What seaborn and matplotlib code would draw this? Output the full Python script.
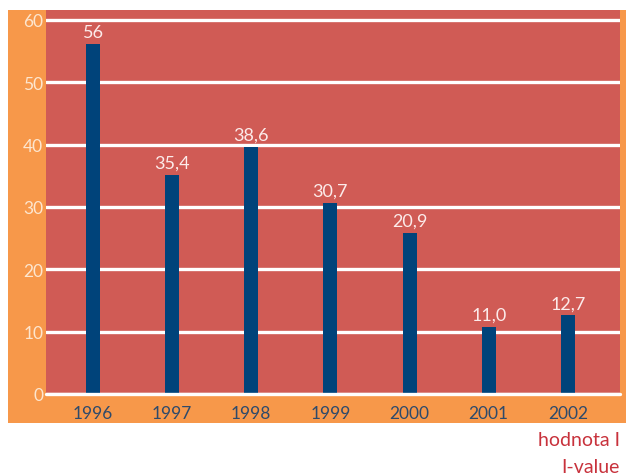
import matplotlib
matplotlib.use("Agg")
import matplotlib.pyplot as plt
import seaborn as sns
import pandas as pd
from matplotlib.patches import Rectangle

# data
years = ['1996', '1997', '1998', '1999', '2000', '2001', '2002']
bar_heights = [56.1, 35.2, 39.6, 30.7, 25.9, 10.8, 12.6]
bar_labels = ['56', '35,4', '38,6', '30,7', '20,9', '11,0', '12,7']
yticks = [0, 10, 20, 30, 40, 50, 60]

orange = '#F7984A'
red = '#D05B55'
blue = '#00437A'

df = pd.DataFrame({'year': years, 'value': bar_heights})

sns.set_style('white')
plt.rcParams['font.family'] = ['Lato', 'DejaVu Sans']

W, H = 626, 477
fig = plt.figure(figsize=(W / 100, H / 100), dpi=100)
fig.patch.set_facecolor('white')

# orange panel behind the plot
fig.patches.append(Rectangle((8 / W, 1 - 424 / H), (W - 8) / W, (424 - 11) / H,
                             transform=fig.transFigure, facecolor=orange,
                             edgecolor='none', zorder=-5))

ax = fig.add_axes([46 / W, (H - 395) / H, 574 / W, (395 - 11) / H])
ax.set_zorder(2)
ax.set_facecolor(red)

sns.barplot(data=df, x='year', y='value', color=blue, width=0.177,
            saturation=1, linewidth=0, ax=ax, zorder=3)

ax.set_xlim(-0.595, 6.66)
ax.set_ylim(0, 61.6)
ax.set_yticks(yticks)
ax.yaxis.grid(True, color='white', linewidth=2.4, zorder=1)
ax.set_axisbelow(True)
ax.axhline(0, color='white', linewidth=2.4, clip_on=False, zorder=4)
for s in ax.spines.values():
    s.set_visible(False)

ax.tick_params(axis='both', length=0)
ax.tick_params(axis='y', pad=2, labelsize=12.5, labelcolor='#FDE6CF')
ax.tick_params(axis='x', pad=8, labelsize=12.5, labelcolor='#2E4A6B')
ax.set_xlabel('')
ax.set_ylabel('')

for i, (h, lab) in enumerate(zip(bar_heights, bar_labels)):
    ax.annotate(lab, (i, h), xytext=(0, 3), textcoords='offset points',
                ha='center', va='bottom', color='#FCEBEA', fontsize=13, zorder=5)

fig.text(620 / W, 1 - 441 / H, 'hodnota I', ha='right', va='center',
         color='#C8323C', fontsize=14)
fig.text(620 / W, 1 - 468 / H, 'I-value', ha='right', va='center',
         color='#C8323C', fontsize=14)

fig.savefig('out.png', dpi=100)
